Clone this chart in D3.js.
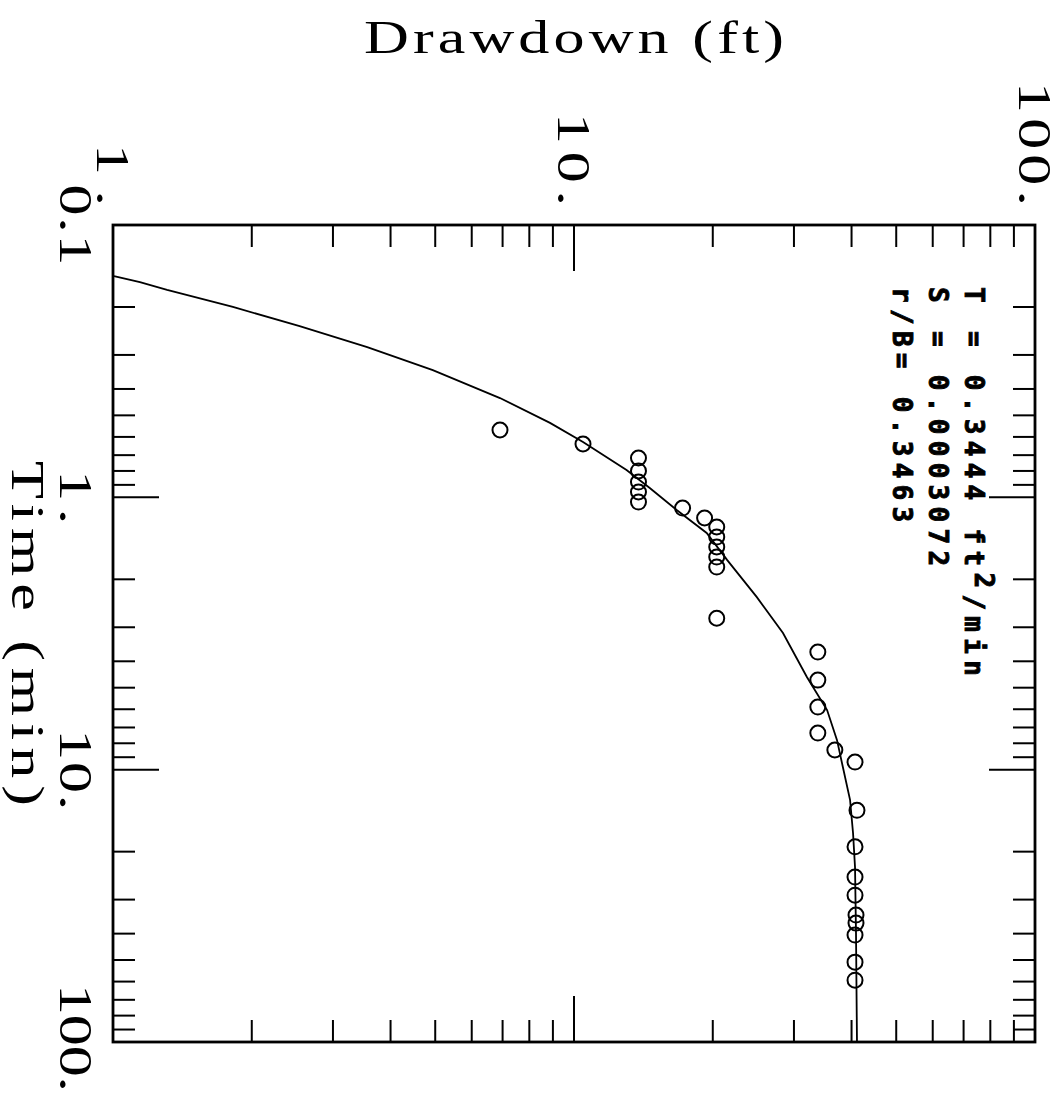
<!DOCTYPE html>
<html>
<head>
<meta charset="utf-8">
<script src="https://cdn.jsdelivr.net/npm/d3@7"></script>
<style>
  body { margin: 0; background: #fff; }
  svg { display: block; }
</style>
</head>
<body>
<svg id="chart" width="1062" height="1099"></svg>
<script>
// fitted type curve (time in min, drawdown in ft)
const curveTime = [0.154, 0.162, 0.173, 0.200, 0.235, 0.281, 0.341, 0.432, 0.533, 0.626, 0.794, 0.924, 1.113, 1.352, 1.70, 2.32, 3.15, 4.57, 6.04, 7.79, 9.78, 12.9, 17.1, 22.8, 39.8, 100];
const curveDrawdown = [1.005, 1.144, 1.31, 1.82, 2.54, 3.56, 4.94, 6.91, 8.87, 10.46, 13.0, 14.6, 16.7, 19.4, 21.5, 24.9, 28.4, 32.0, 35.4, 37.2, 38.3, 39.7, 40.3, 40.7, 40.9, 41.1];

// observed drawdown
const obsTime = [0.566, 0.637, 0.717, 0.800, 0.879, 0.956, 1.041, 1.095, 1.191, 1.285, 1.399, 1.522, 1.657, 1.803, 2.78, 3.70, 4.69, 5.89, 7.34, 8.47, 9.38, 14.1, 19.2, 24.8, 28.9, 34.2, 36.6, 40.5, 50.9, 59.3];
const obsDrawdown = [6.91, 10.46, 13.8, 13.8, 13.8, 13.8, 13.8, 17.2, 19.2, 20.4, 20.4, 20.4, 20.4, 20.4, 20.4, 33.8, 33.8, 33.8, 33.8, 36.8, 40.7, 41.1, 40.7, 40.7, 40.7, 40.9, 40.9, 40.7, 40.7, 40.7];

const drawdownTicks = [1, 10, 100];
const drawdownTickLabels = ["1.", "10.", "100."];
const timeTicks = [0.1, 1, 10, 100];
const timeTickLabels = ["0.1", "1.", "10.", "100."];

const svg = d3.select("#chart");

// the plot is turned a quarter turn clockwise: drawdown runs left->right, time top->bottom
const x = d3.scaleLog().domain([1, 100]).range([113, 1035]);
const y = d3.scaleLog().domain([0.1, 100]).range([225, 1042]);

const isMajor = v => Math.abs(Math.log10(v) - Math.round(Math.log10(v))) < 1e-9;
const minorLen = 22, majorLen = 46;

const axes = svg.append("g").attr("stroke", "#000").attr("stroke-width", 2);

// drawdown ticks on top and bottom edges
const xt = x.ticks().filter(v => v > 1 && v < 100);
axes.selectAll(".xtop").data(xt).join("line")
  .attr("x1", d => x(d)).attr("x2", d => x(d))
  .attr("y1", y.range()[0]).attr("y2", d => y.range()[0] + (isMajor(d) ? majorLen : minorLen));
axes.selectAll(".xbot").data(xt).join("line")
  .attr("x1", d => x(d)).attr("x2", d => x(d))
  .attr("y1", y.range()[1]).attr("y2", d => y.range()[1] - (isMajor(d) ? majorLen : minorLen));

// time ticks on left and right edges
const yt = y.ticks().filter(v => v > 0.1 && v < 100);
axes.selectAll(".yleft").data(yt).join("line")
  .attr("y1", d => y(d)).attr("y2", d => y(d))
  .attr("x1", x.range()[0]).attr("x2", d => x.range()[0] + (isMajor(d) ? majorLen : minorLen));
axes.selectAll(".yright").data(yt).join("line")
  .attr("y1", d => y(d)).attr("y2", d => y(d))
  .attr("x1", x.range()[1]).attr("x2", d => x.range()[1] - (isMajor(d) ? majorLen : minorLen));

svg.append("rect")
  .attr("x", x.range()[0]).attr("y", y.range()[0])
  .attr("width", x.range()[1] - x.range()[0])
  .attr("height", y.range()[1] - y.range()[0])
  .attr("fill", "none").attr("stroke", "#000").attr("stroke-width", 2.8);

// serif labels, widened to look like the plotter's typewriter face
const labelFont = "'Liberation Serif', 'DejaVu Serif', serif";
const widen = 1.35;

svg.selectAll(".dlab").data(drawdownTicks).join("text")
  .attr("transform", d => `translate(${x(d)},206) rotate(90) scale(${widen},1)`)
  .attr("text-anchor", "end")
  .attr("dominant-baseline", "central")
  .attr("font-family", labelFont).attr("font-size", 46)
  .attr("textLength", (d, i) => drawdownTickLabels[i].length * 31 / widen)
  .attr("lengthAdjust", "spacing")
  .text((d, i) => drawdownTickLabels[i]);

svg.selectAll(".tlab").data(timeTicks).join("text")
  .attr("transform", d => `translate(60,${d === 100 ? y(d) - 4 : y(d)}) rotate(90) scale(${widen},1)`)
  .attr("text-anchor", "middle")
  .attr("font-family", labelFont).attr("font-size", 46)
  .attr("textLength", (d, i) => timeTickLabels[i].length * 27 / widen)
  .attr("lengthAdjust", "spacing")
  .text((d, i) => timeTickLabels[i]);

// axis titles
svg.append("text")
  .attr("transform", `translate(${(x.range()[0] + x.range()[1]) / 2},53) scale(${widen},1)`)
  .attr("text-anchor", "middle")
  .attr("font-family", labelFont).attr("font-size", 46)
  .attr("textLength", 420 / widen).attr("lengthAdjust", "spacing")
  .text("Drawdown (ft)");

svg.append("text")
  .attr("transform", `translate(12,${(y.range()[0] + y.range()[1]) / 2}) rotate(90) scale(${widen},1)`)
  .attr("text-anchor", "middle")
  .attr("font-family", labelFont).attr("font-size", 46)
  .attr("textLength", 345 / widen).attr("lengthAdjust", "spacing")
  .text("Time (min)");

// fitted parameters (heavy plotter type)
const params = svg.append("g")
  .attr("font-family", "'DejaVu Sans Mono', monospace").attr("font-size", 26)
  .attr("font-weight", "bold").attr("letter-spacing", 6.3)
  .attr("stroke", "#000").attr("stroke-width", 0.9);

const tLine = params.append("text").attr("transform", "translate(965,287) rotate(90)");
tLine.append("tspan").text("T = 0.3444 ft");
tLine.append("tspan").attr("dy", -10).text("2");
tLine.append("tspan").attr("dy", 10).text("/min");

params.append("text").attr("transform", "translate(929,287) rotate(90)").text("S = 0.0003072");
params.append("text").attr("transform", "translate(893,287) rotate(90)").text("r/B= 0.3463");

// type curve
const curve = curveTime.map((t, i) => ({ t, s: curveDrawdown[i] }));
svg.append("path")
  .datum(curve)
  .attr("fill", "none").attr("stroke", "#000").attr("stroke-width", 1.8)
  .attr("d", d3.line().x(d => x(d.s)).y(d => y(d.t)));

// observations
const obs = obsTime.map((t, i) => ({ t, s: obsDrawdown[i] }));
svg.append("g").selectAll("circle").data(obs).join("circle")
  .attr("cx", d => x(d.s)).attr("cy", d => y(d.t)).attr("r", 7.5)
  .attr("fill", "none").attr("stroke", "#000").attr("stroke-width", 2);
</script>
</body>
</html>
